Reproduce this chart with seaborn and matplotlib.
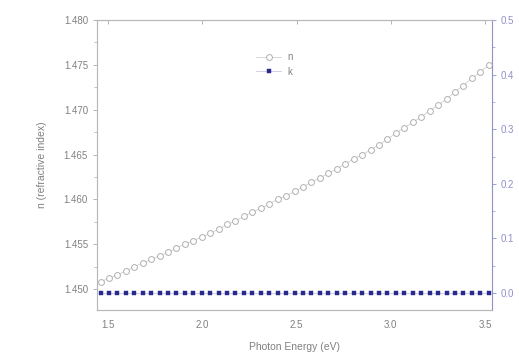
import numpy as np
import pandas as pd
import matplotlib
matplotlib.use("Agg")
import matplotlib.pyplot as plt
import seaborn as sns
from matplotlib.ticker import MultipleLocator, FormatStrFormatter

# Data
energy = [1.460, 1.505, 1.550, 1.594, 1.639, 1.684, 1.729, 1.773, 1.818, 1.863,
          1.908, 1.953, 1.997, 2.042, 2.087, 2.132, 2.176, 2.221, 2.266, 2.311,
          2.356, 2.400, 2.445, 2.490, 2.535, 2.579, 2.624, 2.669, 2.714, 2.759,
          2.803, 2.848, 2.893, 2.938, 2.982, 3.027, 3.072, 3.117, 3.162, 3.206,
          3.251, 3.296, 3.341, 3.385, 3.430, 3.475, 3.520]
n_values = [1.4508, 1.4512, 1.4516, 1.4520, 1.4525, 1.4529, 1.4533, 1.4537, 1.4541, 1.4546,
            1.4550, 1.4554, 1.4558, 1.4562, 1.4567, 1.4572, 1.4576, 1.4581, 1.4586, 1.4590,
            1.4595, 1.4600, 1.4604, 1.4609, 1.4614, 1.4619, 1.4624, 1.4629, 1.4634, 1.4640,
            1.4645, 1.4650, 1.4655, 1.4661, 1.4667, 1.4674, 1.4680, 1.4686, 1.4692, 1.4699,
            1.4705, 1.4712, 1.4720, 1.4727, 1.4735, 1.4742, 1.4750]
k_values = [0.0] * len(energy)

x_ticks = [1.5, 2.0, 2.5, 3.0, 3.5]
n_ticks = [1.450, 1.455, 1.460, 1.465, 1.470, 1.475, 1.480]
k_ticks = [0.0, 0.1, 0.2, 0.3, 0.4, 0.5]

df = pd.DataFrame({"E": energy, "n": n_values, "k": k_values})

sns.set_style("white")
plt.rcParams['font.family'] = ['Liberation Sans', 'DejaVu Sans']

fig = plt.figure(figsize=(5.19, 3.58), dpi=100)
ax = fig.add_axes([0.187, 0.134, 0.761, 0.810])
ax2 = ax.twinx()

gray = "#a8a8a8"
text_gray = "#808080"
blue_axis = "#9090cc"
navy = "#2a2a8c"

sns.lineplot(data=df, x="E", y="n", ax=ax, color="#d0d0d0", lw=0.6,
             marker="o", markersize=4.2, markerfacecolor="white",
             markeredgecolor="#b0b0b0", markeredgewidth=0.7, label="n", legend=False)
sns.lineplot(data=df, x="E", y="k", ax=ax2, color="#c8c8e8", lw=0.6,
             marker="s", markersize=3.4, markerfacecolor=navy,
             markeredgecolor=navy, markeredgewidth=0.3, label="k", legend=False)

ax.set_xlim(1.4416, 3.537)
ax.set_ylim(1.44766, 1.480)
ax2.set_ylim(-0.0311, 0.5)

ax.set_xticks(x_ticks)
ax.xaxis.set_minor_locator(MultipleLocator(0.25))
ax.xaxis.set_major_formatter(FormatStrFormatter('%.1f'))
ax.set_yticks(n_ticks)
ax.yaxis.set_minor_locator(MultipleLocator(0.0025))
ax.yaxis.set_major_formatter(FormatStrFormatter('%.3f'))
ax2.set_yticks(k_ticks)
ax2.yaxis.set_minor_locator(MultipleLocator(0.05))
ax2.yaxis.set_major_formatter(FormatStrFormatter('%.1f'))

ax.tick_params(axis='x', which='major', direction='out', length=3, width=0.6,
               colors=gray, labelcolor=text_gray, labelsize=7, pad=4)
ax.tick_params(axis='x', which='minor', direction='out', length=2, width=0.5,
               colors=gray)
ax.tick_params(axis='y', which='major', direction='out', length=3, width=0.6,
               colors=gray, labelcolor=text_gray, labelsize=7)
ax.tick_params(axis='y', which='minor', direction='out', length=2, width=0.5, colors=gray)
ax2.tick_params(axis='y', which='major', direction='out', length=3, width=0.6,
                colors=blue_axis, labelcolor=blue_axis, labelsize=7)
ax2.tick_params(axis='y', which='minor', direction='out', length=2, width=0.5, colors=blue_axis)

# small inward ticks on the top frame
sec = ax.secondary_xaxis('top')
sec.set_xticks(x_ticks)
sec.tick_params(direction='in', length=3, width=0.6, colors=gray, labeltop=False)
sec.spines['top'].set_visible(False)

for a in (ax, ax2):
    for s in a.spines.values():
        s.set_linewidth(0.8)
        s.set_color("#b8b8b8")
ax2.spines['right'].set_color(blue_axis)
ax.spines['right'].set_visible(False)

ax.set_xlabel("Photon Energy (eV)", fontsize=7.5, color=text_gray, labelpad=9)
ax.set_ylabel("n (refractive index)", fontsize=7.5, color=text_gray, labelpad=12)
ax2.set_ylabel("")

h1, l1 = ax.get_legend_handles_labels()
h2, l2 = ax2.get_legend_handles_labels()
leg = ax.legend(h1 + h2, l1 + l2, loc='upper left', bbox_to_anchor=(0.38, 0.92),
                frameon=False, fontsize=7, handlelength=2.6, labelspacing=0.5,
                handletextpad=0.6)
for t in leg.get_texts():
    t.set_color(text_gray)

fig.savefig("out.png", dpi=100)
